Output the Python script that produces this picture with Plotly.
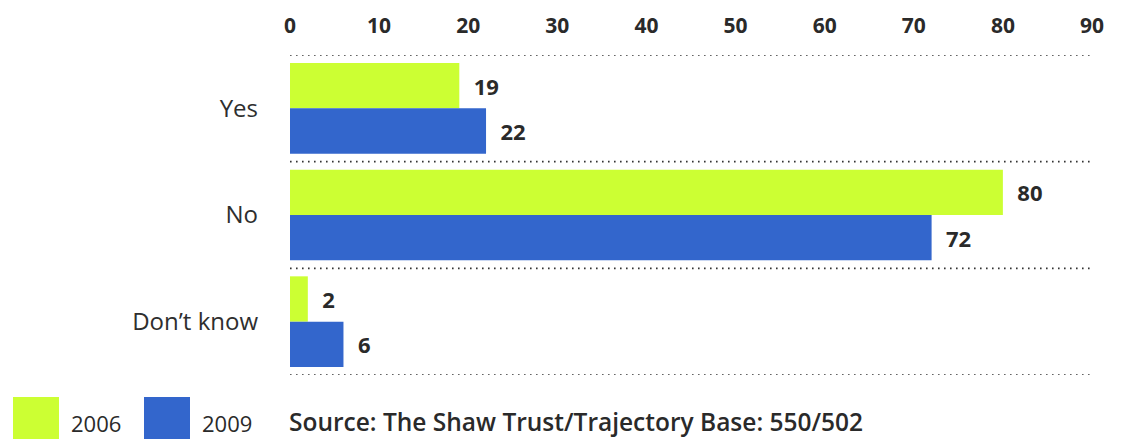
import plotly.graph_objects as go

categories = ["Yes", "No", "Don\u2019t know"]
values_2006 = [19, 80, 2]
values_2009 = [22, 72, 6]
series_names = ["2006", "2009"]
x_ticks = [0, 10, 20, 30, 40, 50, 60, 70, 80, 90]
source_text = "Source: The Shaw Trust/Trajectory Base: 550/502"

GREEN = "#CCFF33"
BLUE = "#3366CC"
TXT = "#2a2a2a"
FONT = "Open Sans"

# the page body has an 8px margin, so the figure is drawn 8px smaller
OFF = 8
W, H = 1126 - OFF, 439 - OFF
plot_left, plot_right, plot_top, plot_bottom = 290, 1092, 55, 375  # in window pixels
L = plot_left - OFF
T = plot_top - OFF
R = W - (plot_right - OFF)
B = H - (plot_bottom - OFF)
pw, ph = W - L - R, H - T - B

def px(xp):
    return (xp - OFF - L) / pw

def py(yp):
    return (H - B - (yp - OFF)) / ph

pos = list(range(len(categories)))

fig = go.Figure()
for name, vals, col in [(series_names[0], values_2006, GREEN), (series_names[1], values_2009, BLUE)]:
    fig.add_trace(go.Bar(
        y=pos, x=vals, orientation="h", name=name, marker_color=col,
        marker_line_width=0,
        text=vals, texttemplate="  %{x}", textposition="outside",
        textfont=dict(family=FONT, size=22, color=TXT, weight=700),
        cliponaxis=False, showlegend=False,
    ))

fig.update_layout(
    width=W, height=H, margin=dict(l=L, r=R, t=T, b=B, autoexpand=False),
    paper_bgcolor="white", plot_bgcolor="white",
    barmode="group", bargap=0.15, bargroupgap=0,
    xaxis=dict(side="top", range=[0, 90], tickvals=x_ticks, showgrid=False,
               zeroline=False, showline=False, ticks="", automargin=False,
               tickfont=dict(family=FONT, size=21, color=TXT, weight=700),
               ticklabelstandoff=17),
    yaxis=dict(range=[len(categories) - 0.5, -0.5], tickvals=pos, ticktext=categories,
               showgrid=False, zeroline=False, showline=False, ticks="", automargin=False,
               tickfont=dict(family=FONT, size=24, color="#2e2e2e"),
               ticklabelstandoff=31),
)

# dotted separators between categories
for b in [p - 0.5 for p in pos] + [pos[-1] + 0.5]:
    fig.add_shape(type="line", xref="paper", yref="y", x0=0, x1=1.002, y0=b, y1=b,
                  line=dict(color="#333333", width=1.6, dash="1.6px,4.4px"), layer="below")

# legend swatches and labels
legend_items = [(series_names[0], GREEN, 13, 59, 69), (series_names[1], BLUE, 144, 190, 200)]
for name, col, x0, x1, tx in legend_items:
    fig.add_shape(type="rect", xref="paper", yref="paper",
                  x0=px(x0), x1=px(x1), y0=py(445), y1=py(397),
                  fillcolor=col, line_width=0)
    fig.add_annotation(xref="paper", yref="paper", x=px(tx), y=py(423),
                       text=name, showarrow=False, xanchor="left", yanchor="middle",
                       font=dict(family=FONT, size=22, color=TXT))

fig.add_annotation(xref="paper", yref="paper", x=px(287), y=py(421),
                   text=source_text, showarrow=False, xanchor="left", yanchor="middle",
                   font=dict(family=FONT, size=24.5, color=TXT, weight=600))

fig.write_html("out.html")
